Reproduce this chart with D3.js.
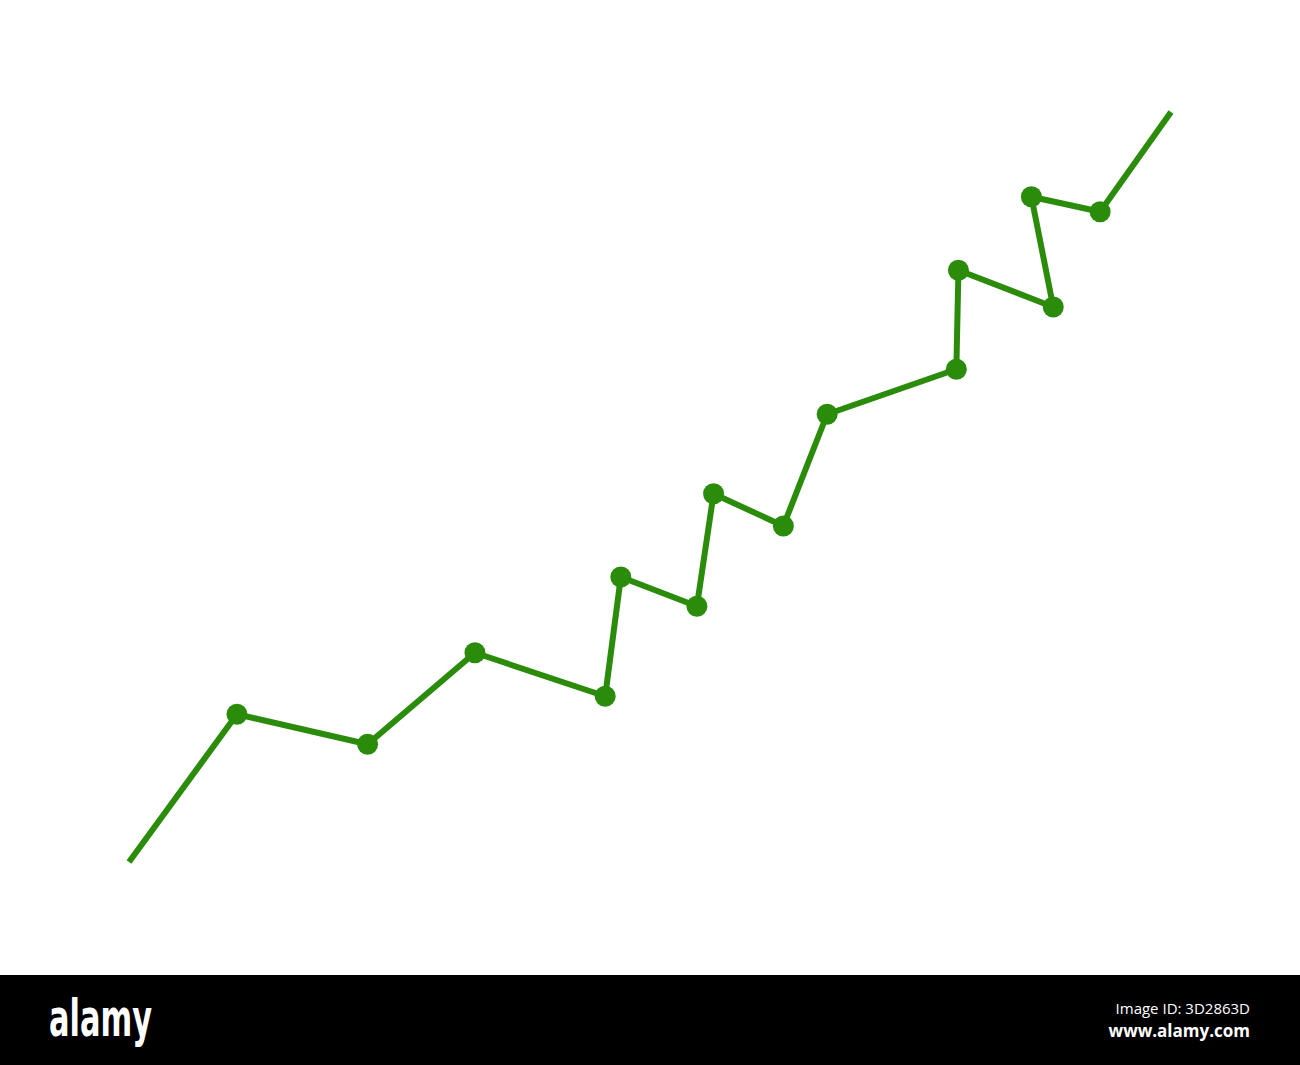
<!DOCTYPE html>
<html><head><meta charset="utf-8">
<script src="https://cdn.jsdelivr.net/npm/d3@7"></script>
<style>html,body{margin:0;padding:0;background:#fff;}</style>
</head><body>
<script>
// data (abstract units 0..100)
const xValues = [0, 10.36, 22.9, 33.2, 45.7, 47.2, 54.5, 56.1, 62.8, 67.0, 79.4, 79.6, 88.7, 86.6, 93.2, 100];
const yValues = [0, 19.7, 15.7, 27.9, 22.1, 38.0, 34.1, 49.1, 44.8, 59.7, 65.7, 78.9, 74.0, 88.7, 86.7, 100];
const markerFlags = [false, true, true, true, true, true, true, true, true, true, true, true, true, true, true, false];
const watermarkLogo = "alamy";
const watermarkId = "Image ID: 3D2863D";
const watermarkUrl = "www.alamy.com";

const W = 1300, H = 1065;
const green = "#2b8c0b";
const svg = d3.select("body").append("svg").attr("width", W).attr("height", H);
svg.append("rect").attr("width", W).attr("height", H).attr("fill", "#fff");

const x = d3.scaleLinear().domain([0, 100]).range([129, 1171]);
const y = d3.scaleLinear().domain([0, 100]).range([862, 112]);

const pts = xValues.map((v, i) => ({x: v, y: yValues[i], m: markerFlags[i]}));

svg.append("path")
  .datum(pts)
  .attr("fill", "none")
  .attr("stroke", green)
  .attr("stroke-width", 6)
  .attr("stroke-linejoin", "round")
  .attr("d", d3.line().x(d => x(d.x)).y(d => y(d.y)));

svg.selectAll("circle.pt")
  .data(pts.filter(d => d.m))
  .join("circle")
  .attr("class", "pt")
  .attr("cx", d => x(d.x))
  .attr("cy", d => y(d.y))
  .attr("r", 10.5)
  .attr("fill", green);

// watermark bar
svg.append("rect").attr("x", 0).attr("y", 975).attr("width", W).attr("height", H - 975).attr("fill", "#000");
svg.append("text").attr("x", 49).attr("y", 1036)
  .attr("fill", "#fff")
  .attr("font-family", "'DejaVu Sans Condensed', 'DejaVu Sans', sans-serif")
  .attr("font-stretch", "condensed")
  .attr("font-weight", "bold")
  .attr("font-size", 52)
  .attr("textLength", 103)
  .attr("lengthAdjust", "spacingAndGlyphs")
  .text(watermarkLogo);
svg.append("text").attr("x", 1250).attr("y", 1014)
  .attr("text-anchor", "end")
  .attr("fill", "#fff")
  .attr("font-family", "'Open Sans', sans-serif")
  .attr("font-size", 15)
  .text(watermarkId);
svg.append("text").attr("x", 1250).attr("y", 1037)
  .attr("text-anchor", "end")
  .attr("fill", "#fff")
  .attr("font-family", "'Open Sans', sans-serif")
  .attr("font-weight", "bold")
  .attr("font-size", 17)
  .text(watermarkUrl);
</script>
</body></html>
